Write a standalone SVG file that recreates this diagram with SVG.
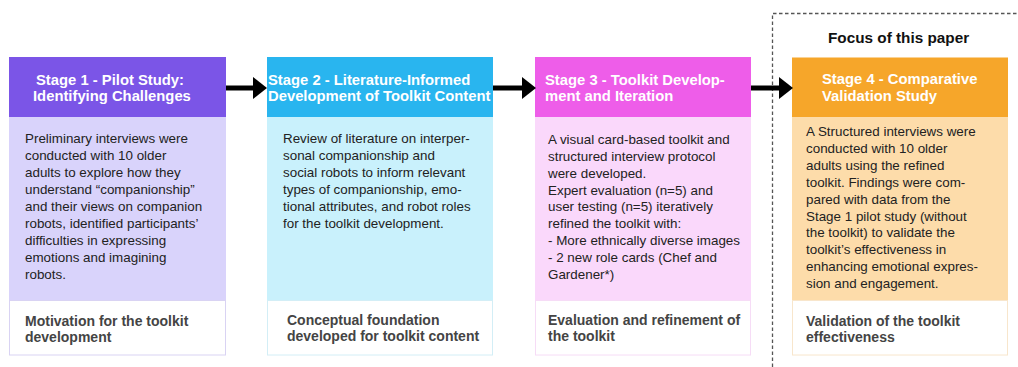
<svg xmlns="http://www.w3.org/2000/svg" width="1018" height="367" viewBox="0 0 1018 367">
<style>
  .hd { font-family: "Liberation Sans", Arial, sans-serif; font-weight: bold; font-size: 14.8px; fill: #ffffff; }
  .bd { font-family: "Liberation Sans", Arial, sans-serif; font-size: 13.4px; fill: #222222; }
  .ft { font-family: "Liberation Sans", Arial, sans-serif; font-weight: bold; font-size: 14px; fill: #444444; }
  .focus { font-family: "Liberation Sans", Arial, sans-serif; font-weight: bold; font-size: 15.3px; fill: #111111; }
  .conn { stroke: #000000; stroke-width: 5; fill: none; }
  .frame { stroke: #555555; stroke-width: 1.3; stroke-dasharray: 3.5 2.5; fill: none; }
</style>
<defs>
  <marker id="ah" markerUnits="userSpaceOnUse" markerWidth="14" markerHeight="24" refX="0" refY="12" orient="auto">
    <path d="M0,1 L14,12 L0,23 Z" fill="#000000"/>
  </marker>
</defs>
<rect width="1018" height="367" fill="#ffffff"/>

<g id="focus-frame">
  <path class="frame" d="M772.5,367 L772.5,13.5 L1018,13.5"/>
  <text class="focus" x="828" y="42.5">Focus of this paper</text>
</g>

<g id="stage1">
  <rect x="9" y="57" width="217" height="60" fill="#7b55e7"/>
  <rect x="9" y="117" width="217" height="183.5" fill="#d9d3fb"/>
  <rect x="9.5" y="300.5" width="216" height="54.5" fill="#ffffff" stroke="#d9d3f3" stroke-width="1"/>
  <text class="hd" x="36" y="84.5">Stage 1 - Pilot Study:</text>
  <text class="hd" x="33" y="101">Identifying Challenges</text>
  <text class="bd" x="25" y="143.3">Preliminary interviews were</text>
  <text class="bd" x="25" y="160.2">conducted with 10 older</text>
  <text class="bd" x="25" y="177.1">adults to explore how they</text>
  <text class="bd" x="25" y="194">understand “companionship”</text>
  <text class="bd" x="25" y="210.9">and their views on companion</text>
  <text class="bd" x="25" y="227.8">robots, identified participants’</text>
  <text class="bd" x="25" y="244.7">difficulties in expressing</text>
  <text class="bd" x="25" y="261.6">emotions and imagining</text>
  <text class="bd" x="25" y="278.5">robots.</text>
  <text class="ft" x="25" y="326">Motivation for the toolkit</text>
  <text class="ft" x="25" y="342">development</text>
</g>

<g id="stage2">
  <rect x="267" y="57" width="226" height="60" fill="#29b5ef"/>
  <rect x="267" y="117" width="226" height="183.5" fill="#c9f1fc"/>
  <rect x="267.5" y="300.5" width="225" height="54.5" fill="#ffffff" stroke="#d3eef6" stroke-width="1"/>
  <text class="hd" x="268" y="84.5">Stage 2 - Literature-Informed</text>
  <text class="hd" x="268" y="101">Development of Toolkit Content</text>
  <text class="bd" x="283" y="143.3">Review of literature on interper-</text>
  <text class="bd" x="283" y="160.2">sonal companionship and</text>
  <text class="bd" x="283" y="177.1">social robots to inform relevant</text>
  <text class="bd" x="283" y="194">types of companionship, emo-</text>
  <text class="bd" x="283" y="210.9">tional attributes, and robot roles</text>
  <text class="bd" x="283" y="227.8">for the toolkit development.</text>
  <text class="ft" x="287" y="325">Conceptual foundation</text>
  <text class="ft" x="287" y="341">developed for toolkit content</text>
</g>

<g id="stage3">
  <rect x="535" y="57" width="216" height="60" fill="#ee5de9"/>
  <rect x="535" y="117" width="216" height="183.5" fill="#fad8fb"/>
  <rect x="535.5" y="300.5" width="215" height="54.5" fill="#ffffff" stroke="#f6dcf6" stroke-width="1"/>
  <text class="hd" x="545" y="84.5">Stage 3 - Toolkit Develop-</text>
  <text class="hd" x="545" y="101">ment and Iteration</text>
  <text class="bd" x="548" y="143.8">A visual card-based toolkit and</text>
  <text class="bd" x="548" y="160.7">structured interview protocol</text>
  <text class="bd" x="548" y="177.6">were developed.</text>
  <text class="bd" x="548" y="194.5">Expert evaluation (n=5) and</text>
  <text class="bd" x="548" y="211.4">user testing (n=5) iteratively</text>
  <text class="bd" x="548" y="228.3">refined the toolkit with:</text>
  <text class="bd" x="548" y="245.2">- More ethnically diverse images</text>
  <text class="bd" x="548" y="262.1">- 2 new role cards (Chef and</text>
  <text class="bd" x="548" y="279">Gardener*)</text>
  <text class="ft" x="548" y="325">Evaluation and refinement of</text>
  <text class="ft" x="548" y="341">the toolkit</text>
</g>

<g id="stage4">
  <rect x="792" y="57.5" width="216" height="59.5" fill="#f6a62a"/>
  <rect x="792" y="117" width="216" height="183.5" fill="#fddcaa"/>
  <rect x="792.5" y="300.5" width="215" height="54.5" fill="#ffffff" stroke="#f8e6cc" stroke-width="1"/>
  <text class="hd" x="822" y="83.5">Stage 4 - Comparative</text>
  <text class="hd" x="822" y="100.5">Validation Study</text>
  <text class="bd" x="806" y="136">A Structured interviews were</text>
  <text class="bd" x="806" y="152.9">conducted with 10 older</text>
  <text class="bd" x="806" y="169.8">adults using the refined</text>
  <text class="bd" x="806" y="186.7">toolkit. Findings were com-</text>
  <text class="bd" x="806" y="203.6">pared with data from the</text>
  <text class="bd" x="806" y="220.5">Stage 1 pilot study (without</text>
  <text class="bd" x="806" y="237.4">the toolkit) to validate the</text>
  <text class="bd" x="806" y="254.3">toolkit’s effectiveness in</text>
  <text class="bd" x="806" y="271.2">enhancing emotional expres-</text>
  <text class="bd" x="806" y="288.1">sion and engagement.</text>
  <text class="ft" x="806" y="326">Validation of the toolkit</text>
  <text class="ft" x="806" y="342">effectiveness</text>
</g>

<g id="connectors">
  <line class="conn" x1="226" y1="88" x2="253" y2="88" marker-end="url(#ah)"/>
  <line class="conn" x1="493" y1="88" x2="522" y2="88" marker-end="url(#ah)"/>
  <line class="conn" x1="751" y1="88" x2="779" y2="88" marker-end="url(#ah)"/>
</g>
</svg>
